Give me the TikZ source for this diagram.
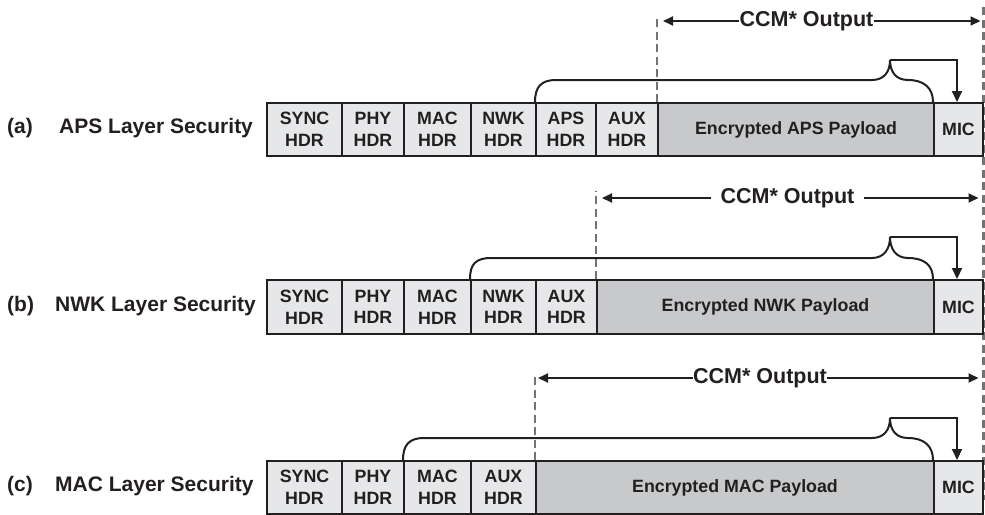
\documentclass[tikz,border=0pt]{standalone}
\usepackage{fontspec}
\setmainfont{Liberation Sans}
\usetikzlibrary{arrows.meta,calc}
\definecolor{txt}{HTML}{231F20}
\definecolor{hdrgray}{HTML}{E6E7E8}
\definecolor{paygray}{HTML}{C8C9CB}
\definecolor{dashgray}{HTML}{737373}
\tikzset{
  pbox/.style={draw=txt, line width=2pt, inner sep=0pt, anchor=north west,
    align=center, text=txt, font=\bfseries\fontsize{17.8}{21.7}\selectfont},
  hdr/.style={pbox, fill=hdrgray},
  pay/.style={pbox, fill=paygray},
  lbl/.style={anchor=west, inner sep=0pt, text=txt, font=\bfseries\fontsize{21}{25}\selectfont},
  ccm/.style={fill=white, inner sep=0pt, text=txt, font=\bfseries\fontsize{21.5}{25}\selectfont},
  ccmarr/.style={draw=txt, line width=2pt, -{Triangle[length=10pt,width=9pt]}},
  bracestyle/.style={draw=txt, line width=2pt},
  micarr/.style={draw=txt, line width=2pt, -{Triangle[length=11pt,width=10pt]}},
  dashline/.style={draw=dashgray, line width=2.3pt, dash pattern=on 8pt off 4.5pt},
}
\begin{document}
\begin{tikzpicture}[x=1pt,y=-1pt]
\useasboundingbox (0,0) rectangle (985,514);

% right dashed line
\coordinate (dtop) at (983.5,7);
\coordinate (dbot) at (983.5,500);
\draw[dashline] (dtop) -- (dbot);

% ---------------- Row (a) ----------------
\node[lbl] (labA) at (7,128.5) {(a)};
\node[lbl] (nameA) at (59,128.5) {APS Layer Security};
\node[hdr, minimum width=75pt, minimum height=53pt] (syncA) at (266,102) {SYNC\\HDR};
\node[hdr, minimum width=62pt, minimum height=53pt] (phyA) at (341,102) {PHY\\HDR};
\node[hdr, minimum width=67pt, minimum height=53pt] (macA) at (403,102) {MAC\\HDR};
\node[hdr, minimum width=65pt, minimum height=53pt] (nwkA) at (470,102) {NWK\\HDR};
\node[hdr, minimum width=60pt, minimum height=53pt] (apsA) at (535,102) {APS\\HDR};
\node[hdr, minimum width=62pt, minimum height=53pt] (auxA) at (595,102) {AUX\\HDR};
\node[pay, minimum width=276pt, minimum height=53pt] (payA) at (657,102) {Encrypted APS Payload};
\node[hdr, minimum width=49pt, minimum height=53pt] (micA) at (933,102) {MIC};

\draw[dashline] (payA.north west) -- ++(0,-87);
\node[ccm] (ccmA) at (806.5,21) {CCM* Output};
\coordinate (ccmAl) at (663,21);
\coordinate (ccmAr) at (980.5,21);
\draw[ccmarr] (ccmA) -- (ccmAl);
\draw[ccmarr] (ccmA) -- (ccmAr);

\coordinate (pkA) at (890,60);
\coordinate (mA) at (957,102);
\draw[bracestyle] (apsA.north west) .. controls +(0,-15) and +(-15,0) .. ($(apsA.north west)+(21,-22)$)
  -- ($(pkA)+(-18,20)$) .. controls +(12,0) and +(0,12) .. (pkA)
  .. controls +(0,12) and +(-12,0) .. ($(pkA)+(18,20)$)
  .. controls +(16,0) and +(0,-14) .. (micA.north west);
\draw[micarr] (pkA) -| (mA);

% ---------------- Row (b) ----------------
\node[lbl] (labB) at (7,306) {(b)};
\node[lbl] (nameB) at (55,306) {NWK Layer Security};
\node[hdr, minimum width=75pt, minimum height=54pt] (syncB) at (266,279) {SYNC\\HDR};
\node[hdr, minimum width=62pt, minimum height=54pt] (phyB) at (341,279) {PHY\\HDR};
\node[hdr, minimum width=67pt, minimum height=54pt] (macB) at (403,279) {MAC\\HDR};
\node[hdr, minimum width=65pt, minimum height=54pt] (nwkB) at (470,279) {NWK\\HDR};
\node[hdr, minimum width=61pt, minimum height=54pt] (auxB) at (535,279) {AUX\\HDR};
\node[pay, minimum width=337pt, minimum height=54pt] (payB) at (596,279) {Encrypted NWK Payload};
\node[hdr, minimum width=49pt, minimum height=54pt] (micB) at (933,279) {MIC};

\draw[dashline] (payB.north west) -- ++(0,-88);
\node[ccm, inner xsep=9pt] (ccmB) at (787.5,198) {CCM* Output};
\coordinate (ccmBl) at (602,198);
\coordinate (ccmBr) at (978.5,198);
\draw[ccmarr] (ccmB) -- (ccmBl);
\draw[ccmarr] (ccmB) -- (ccmBr);

\coordinate (pkB) at (890,237);
\coordinate (mB) at (957,279);
\draw[bracestyle] (nwkB.north west) .. controls +(0,-15) and +(-15,0) .. ($(nwkB.north west)+(21,-21)$)
  -- ($(pkB)+(-18,21)$) .. controls +(12,0) and +(0,12) .. (pkB)
  .. controls +(0,12) and +(-12,0) .. ($(pkB)+(18,21)$)
  .. controls +(16,0) and +(0,-14) .. (micB.north west);
\draw[micarr] (pkB) -| (mB);

% ---------------- Row (c) ----------------
\node[lbl] (labC) at (7,486.5) {(c)};
\node[lbl] (nameC) at (55,486.5) {MAC Layer Security};
\node[hdr, minimum width=75pt, minimum height=53pt] (syncC) at (266,460) {SYNC\\HDR};
\node[hdr, minimum width=62pt, minimum height=53pt] (phyC) at (341,460) {PHY\\HDR};
\node[hdr, minimum width=67pt, minimum height=53pt] (macC) at (403,460) {MAC\\HDR};
\node[hdr, minimum width=65pt, minimum height=53pt] (auxC) at (470,460) {AUX\\HDR};
\node[pay, minimum width=398pt, minimum height=53pt] (payC) at (535,460) {Encrypted MAC Payload};
\node[hdr, minimum width=49pt, minimum height=53pt] (micC) at (933,460) {MIC};

\draw[dashline] (payC.north west) -- ++(0,-86);
\node[ccm] (ccmC) at (760,378) {CCM* Output};
\coordinate (ccmCl) at (538,378);
\coordinate (ccmCr) at (978.5,378);
\draw[ccmarr] (ccmC) -- (ccmCl);
\draw[ccmarr] (ccmC) -- (ccmCr);

\coordinate (pkC) at (890,418);
\coordinate (mC) at (957,460);
\draw[bracestyle] (macC.north west) .. controls +(0,-15) and +(-15,0) .. ($(macC.north west)+(21,-22)$)
  -- ($(pkC)+(-18,20)$) .. controls +(12,0) and +(0,12) .. (pkC)
  .. controls +(0,12) and +(-12,0) .. ($(pkC)+(18,20)$)
  .. controls +(16,0) and +(0,-14) .. (micC.north west);
\draw[micarr] (pkC) -| (mC);
\end{tikzpicture}
\end{document}
